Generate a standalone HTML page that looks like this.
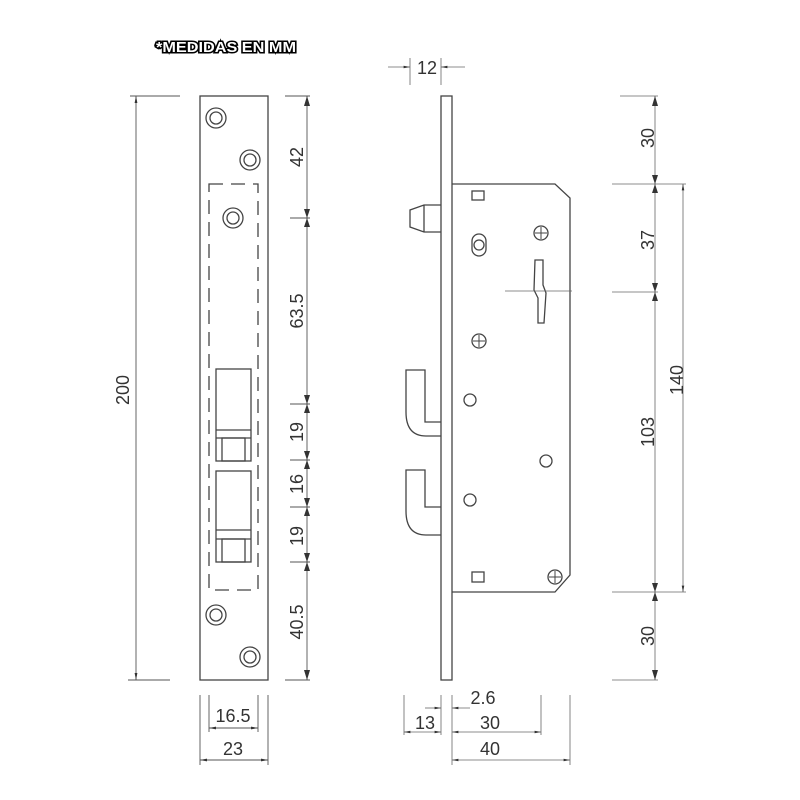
<!DOCTYPE html>
<html><head><meta charset="utf-8"><style>
html,body{margin:0;padding:0;background:#fff;}
svg{display:block}
text{font-family:"Liberation Sans",sans-serif;fill:#333;font-size:18px}
</style></head><body>
<svg width="800" height="800" viewBox="0 0 800 800" xmlns="http://www.w3.org/2000/svg">
<defs>
<marker id="a" viewBox="0 0 10 10" refX="10" refY="5" markerWidth="8" markerHeight="8" orient="auto-start-reverse"><path d="M0,3 L10,5 L0,7z" fill="#333"/></marker>
</defs>
<text x="156" y="52" textLength="140" lengthAdjust="spacingAndGlyphs" style="font-size:15px;font-weight:bold;stroke:#000;stroke-width:3px;paint-order:stroke;fill:#fff">*MEDIDAS EN MM</text>
<g fill="none" stroke="#444" stroke-width="1.3">
<rect x="200" y="96" width="68" height="584"/>
<rect x="209" y="184" width="49" height="406" stroke-dasharray="14,8"/>
<circle cx="216" cy="118" r="10"/><circle cx="216" cy="118" r="6"/>
<circle cx="250" cy="160" r="10"/><circle cx="250" cy="160" r="6"/>
<circle cx="233" cy="218" r="10"/><circle cx="233" cy="218" r="6"/>
<circle cx="216" cy="615" r="10"/><circle cx="216" cy="615" r="6"/>
<circle cx="250" cy="657" r="10"/><circle cx="250" cy="657" r="6"/>
<rect x="216" y="369" width="35" height="92"/>
<line x1="216" y1="430" x2="251" y2="430"/><line x1="216" y1="438" x2="251" y2="438"/>
<rect x="222" y="438" width="23" height="23"/>
<rect x="216" y="471" width="35" height="91"/>
<line x1="216" y1="530" x2="251" y2="530"/><line x1="216" y1="539" x2="251" y2="539"/>
<rect x="222" y="539" width="23" height="23"/>
</g>
<g stroke="#555" stroke-width="0.9" fill="none">
<line x1="130" y1="96" x2="180" y2="96"/><line x1="128" y1="680" x2="170" y2="680"/>
<line x1="136" y1="96" x2="136" y2="680" marker-start="url(#a)" marker-end="url(#a)"/>
<line x1="285" y1="96" x2="310" y2="96"/><line x1="285" y1="680" x2="310" y2="680"/>
<line x1="307" y1="96" x2="307" y2="680"/>
<line x1="290" y1="218" x2="310" y2="218"/><line x1="290" y1="404" x2="310" y2="404"/>
<line x1="290" y1="460" x2="310" y2="460"/><line x1="290" y1="507" x2="310" y2="507"/>
<line x1="290" y1="562" x2="310" y2="562"/>
<line x1="200" y1="695" x2="200" y2="765"/><line x1="268" y1="695" x2="268" y2="765"/>
<line x1="209" y1="695" x2="209" y2="732"/><line x1="258" y1="695" x2="258" y2="732"/>
<line x1="209" y1="728" x2="258" y2="728" marker-start="url(#a)" marker-end="url(#a)"/>
<line x1="200" y1="760" x2="268" y2="760" marker-start="url(#a)" marker-end="url(#a)"/>
</g>
<g fill="#333">
<path d="M307,96 l-3,10 h6z M307,680 l-3,-10 h6z M307,218 l-3,-9h6z M307,218 l-3,9h6z M307,404 l-3,-9h6z M307,404 l-3,9h6z M307,460 l-3,-9h6z M307,460 l-3,9h6z M307,507 l-3,-9h6z M307,507 l-3,9h6z M307,562 l-3,-9h6z M307,562 l-3,9h6z"/>
</g>
<text transform="translate(129,390) rotate(-90)" text-anchor="middle">200</text>
<text transform="translate(303,157) rotate(-90)" text-anchor="middle">42</text>
<text transform="translate(303,311) rotate(-90)" text-anchor="middle">63.5</text>
<text transform="translate(303,432) rotate(-90)" text-anchor="middle">19</text>
<text transform="translate(303,484) rotate(-90)" text-anchor="middle">16</text>
<text transform="translate(303,536) rotate(-90)" text-anchor="middle">19</text>
<text transform="translate(303,622) rotate(-90)" text-anchor="middle">40.5</text>
<text x="233" y="722" text-anchor="middle">16.5</text>
<text x="233" y="755" text-anchor="middle">23</text>
<g fill="none" stroke="#444" stroke-width="1.3">
<rect x="441" y="96" width="11" height="584"/>
<path d="M452,184 H555 L570,198 V575 L555,592 H452"/>
<path d="M441,205 H424 L410,210 V227 L424,232 H441 M424,205 V232"/>
<path d="M441,436 H426 Q406,436 406,412 V370 H425 V422 H441"/>
<path d="M441,535 H426 Q406,535 406,511 V470 H425 V507 H441"/>
<rect x="472" y="191" width="12" height="9"/><rect x="472" y="572" width="12" height="10"/>
<rect x="472" y="234" width="14" height="22" rx="7"/>
<circle cx="479" cy="245" r="5"/>
<circle cx="541" cy="233" r="7"/><circle cx="479" cy="341" r="7"/><circle cx="555" cy="577" r="7"/>
<circle cx="470" cy="400" r="6"/><circle cx="470" cy="500" r="6"/><circle cx="546" cy="461" r="6"/>
<path d="M535,260 H543 V285 L546,293 L544,323 H538 L538,298 L534,290 Z"/>
</g>
<g stroke="#444" stroke-width="1"><path d="M535,233h12M541,227v12M473,341h12M479,335v12M549,577h12M555,571v12"/></g>
<g stroke="#666" stroke-width="0.8" fill="none">
<line x1="505" y1="291" x2="572" y2="291"/>
<line x1="620" y1="96" x2="658" y2="96"/><line x1="612" y1="184" x2="686" y2="184"/>
<line x1="612" y1="292" x2="658" y2="292"/><line x1="612" y1="592" x2="686" y2="592"/>
<line x1="612" y1="680" x2="658" y2="680"/>
<line x1="655" y1="96" x2="655" y2="680"/>
<line x1="683" y1="184" x2="683" y2="592" marker-start="url(#a)" marker-end="url(#a)"/>
<line x1="410" y1="58" x2="410" y2="85"/><line x1="441" y1="58" x2="441" y2="85"/>
<line x1="388" y1="67" x2="410" y2="67" marker-end="url(#a)"/>
<line x1="465" y1="67" x2="441" y2="67" marker-end="url(#a)"/>
<line x1="404" y1="695" x2="404" y2="735"/><line x1="441" y1="695" x2="441" y2="735"/>
<line x1="452" y1="695" x2="452" y2="765"/><line x1="541" y1="695" x2="541" y2="735"/>
<line x1="570" y1="695" x2="570" y2="765"/>
<line x1="425" y1="708" x2="441" y2="708" marker-end="url(#a)"/>
<line x1="470" y1="708" x2="452" y2="708" marker-end="url(#a)"/>
<line x1="404" y1="732" x2="441" y2="732" marker-start="url(#a)" marker-end="url(#a)"/>
<line x1="452" y1="732" x2="541" y2="732" marker-start="url(#a)" marker-end="url(#a)"/>
<line x1="452" y1="760" x2="570" y2="760" marker-start="url(#a)" marker-end="url(#a)"/>
</g>
<g fill="#333">
<path d="M655,96 l-3,10h6z M655,184 l-3,-9h6z M655,184 l-3,9h6z M655,292 l-3,-9h6z M655,292 l-3,9h6z M655,592 l-3,-9h6z M655,592 l-3,9h6z M655,680 l-3,-10h6z"/>
</g>
<text x="427" y="74" text-anchor="middle">12</text>
<text transform="translate(654,138) rotate(-90)" text-anchor="middle">30</text>
<text transform="translate(654,240) rotate(-90)" text-anchor="middle">37</text>
<text transform="translate(654,432) rotate(-90)" text-anchor="middle">103</text>
<text transform="translate(683,380) rotate(-90)" text-anchor="middle">140</text>
<text transform="translate(654,636) rotate(-90)" text-anchor="middle">30</text>
<text x="483" y="704" text-anchor="middle">2.6</text>
<text x="425" y="729" text-anchor="middle">13</text>
<text x="490" y="729" text-anchor="middle">30</text>
<text x="490" y="755" text-anchor="middle">40</text>
</svg>
</body></html>
